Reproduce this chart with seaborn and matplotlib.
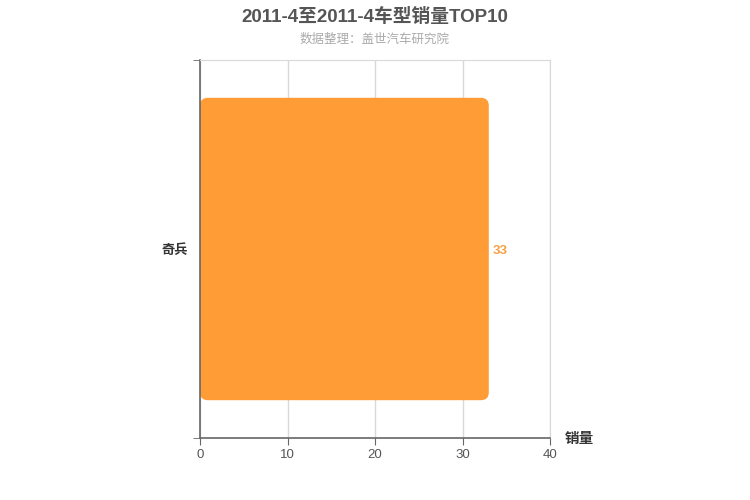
import matplotlib
matplotlib.use("Agg")
import matplotlib.pyplot as plt
import seaborn as sns
import pandas as pd
from matplotlib.patches import FancyBboxPatch

models = ["奇兵"]
sales = [33]
x_ticks = [0, 10, 20, 30, 40]

sns.set_style("white")
plt.rcParams["font.family"] = ["Liberation Sans", "Noto Sans CJK SC", "DejaVu Sans"]

df = pd.DataFrame({"model": models, "sales": sales})

fig = plt.figure(figsize=(7.5, 5), dpi=100)
ax = fig.add_axes([0.2667, 0.124, 0.4667, 0.756])

sns.barplot(data=df, x="sales", y="model", orient="h", color="#FF9C35",
            saturation=1, width=0.8, ax=ax)

# swap plain rectangles for rounded ones
for rect in list(ax.patches):
    x0, y0 = rect.get_x(), rect.get_y()
    w, h = rect.get_width(), rect.get_height()
    rect.remove()
    ax.add_patch(FancyBboxPatch((x0, y0), w, h,
                                boxstyle="round,pad=0,rounding_size=0.9",
                                mutation_aspect=0.023,
                                facecolor="#FF9C35", edgecolor="none", zorder=2))

ax.set_xlim(0, 40)
ax.set_ylim(0.5, -0.5)
ax.set_xticks(x_ticks)
ax.set_xticklabels([str(t) for t in x_ticks])
ax.set_yticks([-0.5, 0.5], minor=True)
ax.set_yticks([0])
ax.set_yticklabels(models)

ax.grid(axis="x", color="#d9d9d9", linewidth=1, zorder=0)
ax.set_axisbelow(True)

for side in ["top", "right"]:
    ax.spines[side].set_color("#d9d9d9")
for side in ["left", "bottom"]:
    ax.spines[side].set_color("#666666")
    ax.spines[side].set_linewidth(1.2)

ax.tick_params(axis="x", which="major", length=5, color="#666666", labelcolor="#555555",
               labelsize=9.5, pad=3, bottom=True)
ax.tick_params(axis="y", which="major", length=0, labelsize=9.5, pad=9, labelcolor="#333333")
ax.tick_params(axis="y", which="minor", length=5, color="#666666", left=True)
for lbl in ax.get_yticklabels():
    lbl.set_fontweight("bold")

ax.set_xlabel("")
ax.set_ylabel("")

for i, v in enumerate(sales):
    ax.text(v + 0.4, i + 0.005, str(v), va="center", ha="left", color="#F7A043",
            fontsize=9.5, fontweight="bold")

fig.text(0.5, 0.967, "2011-4至2011-4车型销量TOP10", ha="center", va="center",
         fontsize=13.5, fontweight="bold", color="#555555")
fig.text(0.5, 0.92, "数据整理：盖世汽车研究院", ha="center", va="center",
         fontsize=9, color="#aaaaaa")
fig.text(0.753, 0.123, "销量", ha="left", va="center", fontsize=10.5,
         fontweight="bold", color="#333333")

fig.savefig("out.png", dpi=100)
